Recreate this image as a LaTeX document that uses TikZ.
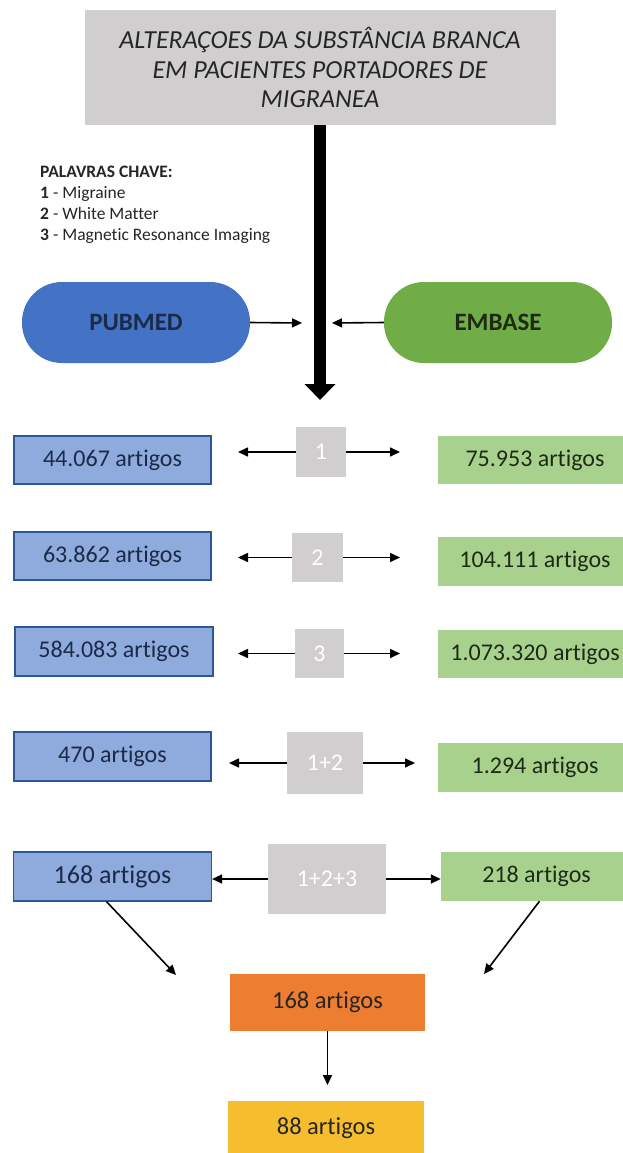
\documentclass[tikz,border=0pt]{standalone}
\usepackage{fontspec}
\setmainfont{Carlito}[Ligatures=NoCommon]
\usetikzlibrary{arrows.meta}
\definecolor{titlegray}{HTML}{D0CECE}
\definecolor{boxgray}{HTML}{D0CECE}
\definecolor{pubblue}{HTML}{4472C4}
\definecolor{embgreen}{HTML}{70AD47}
\definecolor{lblue}{HTML}{8FAADC}
\definecolor{lblueborder}{HTML}{2F5597}
\definecolor{lgreen}{HTML}{A9D18E}
\definecolor{navytext}{HTML}{1B2A48}
\definecolor{greentext}{HTML}{1E2B14}
\definecolor{orangebox}{HTML}{ED7D31}
\definecolor{yellowbox}{HTML}{F6BE2F}
\tikzset{
  bluebox/.style={draw=lblueborder, line width=1.2pt, fill=lblue, text=navytext, minimum width=197pt, minimum height=48pt, inner sep=0pt, font=\fontsize{24}{27}\selectfont},
  greenbox/.style={fill=lgreen, text=greentext, minimum width=194pt, minimum height=48pt, inner sep=0pt, font=\fontsize{24}{27}\selectfont},
  graybox/.style={fill=boxgray, text=white, inner sep=0pt, font=\fontsize{24}{27}\selectfont},
  pill/.style={rounded corners=40pt, minimum width=228pt, minimum height=81pt, inner sep=0pt, font=\fontsize{25}{28}\selectfont\bfseries},
  finalbox/.style={text=black!85, minimum width=195pt, inner sep=0pt, font=\fontsize{24.5}{27}\selectfont},
  thin/.style={line width=1.6pt, -{Triangle[length=10pt,width=9pt]}}
}
\begin{document}
\begin{tikzpicture}[x=1pt,y=-1pt]
\clip (0,0) rectangle (623,1153);
\fill[white] (0,0) rectangle (623,1153);
% title
\node[fill=titlegray, minimum width=471pt, minimum height=115pt, inner sep=0pt, align=center, text=black!85, font=\fontsize{26}{29.5}\selectfont\itshape] (title) at (320,67.5) {ALTERAÇOES DA SUBSTÂNCIA BRANCA\\EM PACIENTES PORTADORES DE\\MIGRANEA};
\coordinate (hub) at (320,400);
\draw[line width=12pt, -{Triangle[length=16pt,width=30pt]}] (title.south) -- (hub);
% keywords
\node[anchor=north west, align=left, inner sep=0pt, text=black!85, font=\fontsize{17.5}{21}\selectfont] (kw) at (40,166) {\textbf{PALAVRAS CHAVE:}\\\textbf{1} - Migraine\\\textbf{2} - White Matter\\\textbf{3} - Magnetic Resonance Imaging};
% pills
\node[pill, fill=pubblue, text=navytext] (pubmed) at (136,322.5) {PUBMED};
\node[pill, fill=embgreen, text=greentext] (embase) at (498,322.5) {EMBASE};
\coordinate (pin) at (302,323);
\coordinate (ein) at (332,323);
\draw[thin] (pubmed.east) -- (pin);
\draw[thin] (embase.west) -- (ein);
% row 1
\node[bluebox] (b1) at (112.5,460) {44.067 artigos};
\node[graybox, minimum width=50pt, minimum height=50pt] (g1) at (321,452) {1};
\node[greenbox] (e1) at (535,460) {75.953 artigos};
\coordinate (l1) at (238,452); \coordinate (r1) at (400,452);
\draw[thin] (g1.west) -- (l1);
\draw[thin] (g1.east) -- (r1);
% row 2
\node[bluebox] (b2) at (112.5,556) {63.862 artigos};
\node[graybox, minimum width=51pt, minimum height=49pt] (g2) at (317.5,557.5) {2};
\node[greenbox, minimum height=49pt] (e2) at (535,561.5) {104.111 artigos};
\coordinate (l2) at (238,557.5); \coordinate (r2) at (400,557.5);
\draw[thin] (g2.west) -- (l2);
\draw[thin] (g2.east) -- (r2);
% row 3
\node[bluebox, minimum width=198pt, minimum height=49pt] (b3) at (114,651.5) {584.083 artigos};
\node[graybox, minimum width=49pt, minimum height=49pt] (g3) at (319.5,653.5) {3};
\node[greenbox] (e3) at (535,654) {1.073.320 artigos};
\coordinate (l3) at (238,653.5); \coordinate (r3) at (400,653.5);
\draw[thin] (g3.west) -- (l3);
\draw[thin] (g3.east) -- (r3);
% row 4
\node[bluebox, minimum height=49pt] (b4) at (112.5,756.5) {470 artigos};
\node[graybox, minimum width=76pt, minimum height=62pt] (g4) at (325,763) {1+2};
\node[greenbox, minimum height=49pt] (e4) at (535,767.5) {1.294 artigos};
\coordinate (l4) at (229,763); \coordinate (r4) at (415,763);
\draw[thin] (g4.west) -- (l4);
\draw[thin] (g4.east) -- (r4);
% row 5
\node[bluebox, minimum width=198pt, minimum height=49pt, font=\fontsize{26}{28}\selectfont] (b5) at (112.5,876.5) {168 artigos};
\node[graybox, minimum width=118pt, minimum height=70pt] (g5) at (327,879) {1+2+3};
\node[greenbox, minimum width=191pt, minimum height=49pt] (e5) at (536.5,876.5) {218 artigos};
\draw[thin] (g5.west) -- (b5.east |- g5.west);
\draw[thin] (g5.east) -- (e5.west |- g5.east);
\coordinate (la) at (176,975);
\coordinate (ra) at (484,974);
\draw[thin] ([xshift=-6pt]b5.south) -- (la);
\draw[thin] ([xshift=3pt]e5.south) -- (ra);
% final
\node[finalbox, fill=orangebox, minimum height=57pt] (o1) at (327.5,1002.5) {168 artigos};
\coordinate (od) at (327.5,1085);
\draw[thin] (o1.south) -- (od);
\node[finalbox, fill=yellowbox, minimum width=196pt, minimum height=54pt] (y1) at (326,1128) {88 artigos};
\end{tikzpicture}
\end{document}
